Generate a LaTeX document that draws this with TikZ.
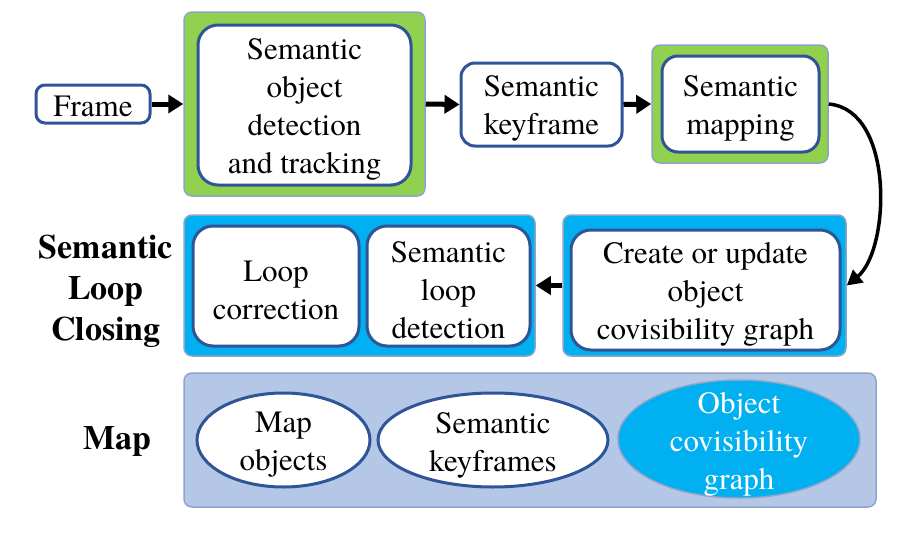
\documentclass[tikz,border=0pt]{standalone}
\usepackage{fontspec}
\setmainfont{TeX Gyre Termes}
\usetikzlibrary{arrows.meta,shapes.geometric}
\definecolor{cgreen}{HTML}{92D050}
\definecolor{cblue}{HTML}{00B0F0}
\definecolor{clight}{HTML}{B4C7E7}
\definecolor{cborder}{HTML}{2F5597}
\definecolor{cgray}{HTML}{8EA4C8}
\tikzset{
  every node/.style={font=\fontsize{31}{38}\selectfont, align=center, inner sep=0pt},
  tx/.style={label={[yshift=-4pt]center:#1}},
  txw/.style={label={[yshift=-5pt, text=white]center:#1}},
  container/.style={draw=cgray, line width=1.5pt, rounded corners=8pt},
  inbox/.style={draw=cborder, fill=white, line width=3pt, rounded corners=20pt},
  ell/.style={ellipse, draw=cborder, fill=white, line width=3pt},
  lbl/.style={font=\fontsize{34}{41}\selectfont\bfseries},
  arr/.style={line width=5pt, -{Triangle[length=15pt,width=18pt]}},
  carr/.style={line width=3.5pt, -{Triangle[length=15pt,width=16pt]}},
}
\begin{document}
\begin{tikzpicture}[x=1pt,y=-1pt]
\useasboundingbox (0,0) rectangle (908,533);
% row 1
\node[inbox, rounded corners=9pt, minimum width=114pt, minimum height=38pt,
  label={[yshift=-2pt]center:Frame}] (frame) at (93,104) {};
\node[container, fill=cgreen, minimum width=241pt, minimum height=184pt] (g1) at (304.5,104) {};
\node[inbox, minimum width=213pt, minimum height=160pt,
  tx={Semantic\\object\\detection\\and tracking}] (det) at (304.5,105) {};
\node[inbox, rounded corners=14pt, minimum width=161pt, minimum height=83pt,
  tx={Semantic\\keyframe}] (kf) at (541.5,104.5) {};
\node[container, fill=cgreen, minimum width=176pt, minimum height=118pt] (g2) at (740,104) {};
\node[inbox, rounded corners=16pt, minimum width=157pt, minimum height=96pt,
  tx={Semantic\\mapping}] (smap) at (740.5,104) {};
% row 2
\node[container, fill=cblue, minimum width=351pt, minimum height=141pt] (bl) at (359.5,285.5) {};
\node[inbox, minimum width=166pt, minimum height=120pt,
  tx={Loop\\correction}] (lc) at (276,286) {};
\node[inbox, minimum width=163pt, minimum height=120pt,
  tx={Semantic\\loop\\detection}] (sld) at (448.5,286) {};
\node[container, fill=cblue, minimum width=283pt, minimum height=141pt] (br) at (704.5,285.5) {};
\node[inbox, minimum width=269pt, minimum height=120pt,
  tx={Create or update\\object\\covisibility graph}] (cov) at (705.5,290) {};
\node[lbl] (slc) at (106,291) {Semantic\\Loop\\Closing};
% row 3
\node[container, fill=clight, minimum width=692pt, minimum height=134pt] (mapbox) at (530,440) {};
\node[lbl] (maplbl) at (117,441) {Map};
\node[ell, minimum width=173pt, minimum height=94pt,
  label={[yshift=-5pt]center:{Map\\objects}}] (mo) at (283.5,440) {};
\node[ell, minimum width=230pt, minimum height=94pt,
  label={[yshift=-5pt]center:{Semantic\\keyframes}}] (skf) at (493,440) {};
\node[ellipse, draw=cgray, line width=1.5pt, fill=cblue, minimum width=242pt, minimum height=118pt,
  txw={Object\\covisibility\\graph}] (ocg) at (739,439) {};
% connectors
\draw[arr] (frame.east) -- (g1.west);
\draw[arr] (g1.east) -- (kf.west);
\draw[arr] (kf.east) -- (g2.west);
\draw[carr] (g2.east) .. controls (895,110) and (890,250) .. (br.east);
\draw[arr] (br.west) -- (bl.east);
\end{tikzpicture}
\end{document}
